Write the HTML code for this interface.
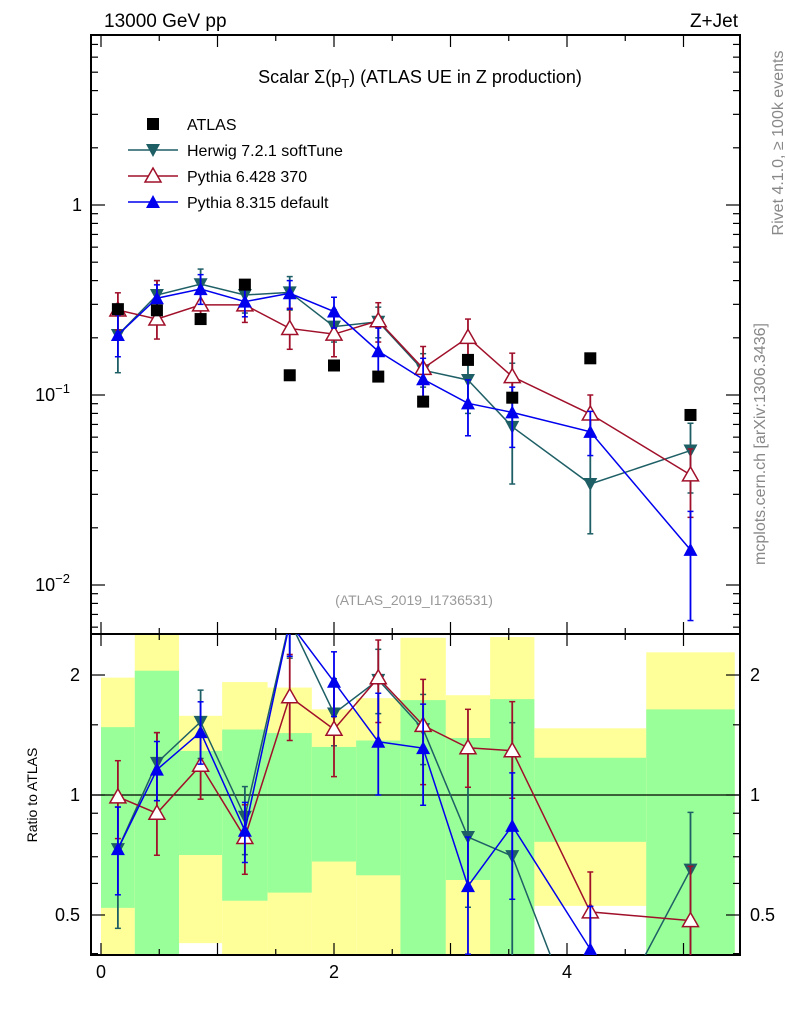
<!DOCTYPE html>
<html><head><meta charset="utf-8"><style>
html,body{margin:0;padding:0;background:#fff;width:786px;height:1024px;overflow:hidden;}
svg{display:block;font-family:"Liberation Sans",sans-serif;}
</style></head><body>
<svg id="c" width="786" height="1024" viewBox="0 0 786 1024" xmlns="http://www.w3.org/2000/svg">
<text x="104" y="27" font-size="19">13000 GeV pp</text>
<text x="738" y="27" font-size="19" text-anchor="end">Z+Jet</text>
<text x="420" y="83" font-size="18" text-anchor="middle">Scalar Σ(p<tspan font-size="13" dy="5">T</tspan><tspan dy="-5">) (ATLAS UE in Z production)</tspan></text>
<text x="414" y="605" font-size="14" fill="#999" text-anchor="middle">(ATLAS_2019_I1736531)</text>
<text transform="translate(783,143) rotate(-90)" font-size="16" fill="#888" text-anchor="middle">Rivet 4.1.0, ≥ 100k events</text>
<text transform="translate(765,444) rotate(-90)" font-size="16" fill="#888" text-anchor="middle">mcplots.cern.ch [arXiv:1306.3436]</text>
<text transform="translate(37,795) rotate(-90)" font-size="14" text-anchor="middle">Ratio to ATLAS</text>
<g id="bands"></g><g id="axes"></g><g id="marks"></g><g id="legend"></g>
</svg>
<script>
const binEdges=[0,0.29,0.67,1.04,1.43,1.81,2.19,2.57,2.96,3.34,3.72,4.68,5.44];
const atlas=[0.283,0.279,0.251,0.381,0.127,0.143,0.125,0.0923,0.153,0.0968,0.156,0.0785];
const herwig=[0.207,0.336,0.383,0.336,0.347,0.229,0.243,0.135,0.12,0.068,0.034,0.051];
const herwigLo=[0.131,0.27,0.31,0.27,0.28,0.19,0.2,0.11,0.08,0.034,0.0186,0.0305];
const herwigHi=[0.264,0.40,0.46,0.40,0.42,0.28,0.29,0.165,0.16,0.147,0.082,0.071];
const py6=[0.28,0.251,0.298,0.298,0.224,0.209,0.246,0.138,0.201,0.125,0.0794,0.038];
const py6Lo=[0.22,0.197,0.245,0.241,0.174,0.159,0.19,0.098,0.16,0.095,0.063,0.0227];
const py6Hi=[0.345,0.40,0.36,0.36,0.286,0.27,0.306,0.18,0.251,0.166,0.1,0.052];
const py8=[0.207,0.323,0.361,0.31,0.343,0.275,0.17,0.121,0.0904,0.081,0.064,0.0153];
const py8Lo=[0.159,0.27,0.3,0.258,0.283,0.225,0.125,0.087,0.061,0.053,0.048,0.0065];
const py8Hi=[0.264,0.38,0.43,0.365,0.40,0.327,0.225,0.156,0.12,0.11,0.082,0.0244];
const greenHi=[1.48,2.05,1.29,1.46,1.43,1.32,1.37,1.73,1.39,1.74,1.24,1.64];
const greenLo=[0.521,0.3,0.707,0.543,0.569,0.681,0.629,0.3,0.612,0.3,0.763,0.3];
const yellowHi=[1.97,3,1.58,1.92,1.86,1.64,1.75,2.48,1.78,2.49,1.47,2.28];
const yellowLo=[0.3,0.3,0.425,0.3,0.3,0.3,0.3,0.3,0.3,0.3,0.527,0.3];
const xTickLabels=[0,2,4];
const mainTickLabels=[1,0.1,0.01];
const ratioTickLabels=[0.5,1,2];

const NS="http://www.w3.org/2000/svg";
const L=91,R=740,T=35,MB=634,RB=955;
const X=v=>101+v*116.5;
const Y=v=>205-190*Math.log10(v);
const RY=v=>795-398.6*Math.log10(v);
function el(tag,attrs,parent){const e=document.createElementNS(NS,tag);for(const k in attrs)e.setAttribute(k,attrs[k]);document.getElementById(parent).appendChild(e);return e;}

for(let i=0;i<atlas.length;i++){
  const x0=X(binEdges[i]),x1=X(binEdges[i+1]);
  const clip=v=>Math.max(MB,Math.min(RB,v));
  let a=clip(RY(yellowHi[i])),b=clip(RY(yellowLo[i]));
  const y1=el('rect',{x:x0,y:a,width:x1-x0,height:b-a,fill:'#ffff99'},'bands');
  
  
  a=clip(RY(greenHi[i]));b=clip(RY(greenLo[i]));
  const g1=el('rect',{x:x0,y:a,width:x1-x0,height:b-a,fill:'#99ff99'},'bands');
  
  
}
[[T,MB],[MB,RB]].forEach(([t,b])=>{
  const f=el('rect',{x:L,y:t,width:R-L,height:b-t,fill:'none',stroke:'#000','stroke-width':2},'axes');
  
  
});
const one=el('line',{x1:L,x2:R,y1:RY(1),y2:RY(1),stroke:'#000','stroke-width':1.2},'axes');


for(let v=0;v<=5.4;v+=0.5){
  const maj=Math.abs(v-Math.round(v))<1e-6;const len=maj?12:6;
  [[T,1],[MB,-1],[MB,1],[RB,-1]].forEach(([y,d])=>{el('line',{x1:X(v),x2:X(v),y1:y,y2:y+d*len,stroke:'#000','stroke-width':1.2},'axes');});
}
xTickLabels.forEach(v=>{const t=el('text',{x:X(v),y:978,'font-size':18,'text-anchor':'middle'},'axes');t.textContent=v;

});
for(let d=-3;d<=0;d++)for(let m=1;m<=9;m++){const v=m*Math.pow(10,d);const y=Y(v);if(y<T||y>MB)continue;const len=m==1?14:7;
 el('line',{x1:L,x2:L+len,y1:y,y2:y,stroke:'#000','stroke-width':1.2},'axes');el('line',{x1:R,x2:R-len,y1:y,y2:y,stroke:'#000','stroke-width':1.2},'axes');}
mainTickLabels.forEach(v=>{const t=el('text',{x:82,y:Y(v)+6,'font-size':18,'text-anchor':'end'},'axes');
 if(v===1)t.textContent='1';else{t.textContent='10';const s=document.createElementNS(NS,'tspan');s.setAttribute('dy','-8');s.setAttribute('font-size','13');s.textContent='−'+Math.round(-Math.log10(v));t.appendChild(s);t.setAttribute('x',70);}
 
 });
[0.4,0.5,0.6,0.7,0.8,0.9,1,1.5,2].forEach(v=>{const y=RY(v);const maj=(v==0.5||v==1||v==2);const len=maj?14:7;
 el('line',{x1:L,x2:L+len,y1:y,y2:y,stroke:'#000','stroke-width':1.2},'axes');el('line',{x1:R,x2:R-len,y1:y,y2:y,stroke:'#000','stroke-width':1.2},'axes');});
ratioTickLabels.forEach(v=>{[[80,'end'],[750,'start']].forEach(([x,a])=>{const t=el('text',{x:x,y:RY(v)+6,'font-size':18,'text-anchor':a},'axes');t.textContent=v;
 
 });});

function marker(g,type,x,y,col){
  if(type==='sq')return el('rect',{x:x-6,y:y-6,width:12,height:12,fill:'#000'},g);
  if(type==='down')return el('polygon',{points:`${x-7},${y-6} ${x+7},${y-6} ${x},${y+7}`,fill:col},g);
  if(type==='up')return el('polygon',{points:`${x-7},${y+6} ${x+7},${y+6} ${x},${y-7}`,fill:col},g);
  if(type==='open')return el('polygon',{points:`${x-8},${y+6} ${x+8},${y+6} ${x},${y-8}`,fill:'#fff',stroke:col,'stroke-width':1.5},g);
}
const series=[
 {name:'herwig',v:herwig,lo:herwigLo,hi:herwigHi,col:'#1e5f66',m:'down'},
 {name:'pythia6',v:py6,lo:py6Lo,hi:py6Hi,col:'#a0102a',m:'open'},
 {name:'pythia8',v:py8,lo:py8Lo,hi:py8Hi,col:'#0000ee',m:'up'}];
const cx=i=>X((binEdges[i]+binEdges[i+1])/2);
const defs=el('defs',{},'marks');
const c1=document.createElementNS(NS,'clipPath');c1.setAttribute('id','cm');defs.appendChild(c1);
const r1=document.createElementNS(NS,'rect');r1.setAttribute('x',L);r1.setAttribute('y',T);r1.setAttribute('width',R-L);r1.setAttribute('height',MB-T);c1.appendChild(r1);
const c2=document.createElementNS(NS,'clipPath');c2.setAttribute('id','cr');defs.appendChild(c2);
const r2=document.createElementNS(NS,'rect');r2.setAttribute('x',L);r2.setAttribute('y',MB);r2.setAttribute('width',R-L);r2.setAttribute('height',RB-MB);c2.appendChild(r2);
const gm=el('g',{id:'gm','clip-path':'url(#cm)'},'marks');
const gr=el('g',{id:'gr','clip-path':'url(#cr)'},'marks');
series.forEach(s=>{
  [['gm',Y,i=>s.v[i],i=>s.lo[i],i=>s.hi[i]],['gr',RY,i=>s.v[i]/atlas[i],i=>s.lo[i]/atlas[i],i=>s.hi[i]/atlas[i]]].forEach(([g,F,fv,fl,fh])=>{
    const pts=s.v.map((_,i)=>cx(i)+','+F(fv(i))).join(' ');
    const pl=el('polyline',{points:pts,fill:'none',stroke:s.col,'stroke-width':1.5},g);
    
    
    s.v.forEach((_,i)=>{
      const x=cx(i);
      el('line',{x1:x,x2:x,y1:F(fl(i)),y2:F(fh(i)),stroke:s.col,'stroke-width':1.8},g);
      el('line',{x1:x-3,x2:x+3,y1:F(fl(i)),y2:F(fl(i)),stroke:s.col,'stroke-width':1.5},g);
      el('line',{x1:x-3,x2:x+3,y1:F(fh(i)),y2:F(fh(i)),stroke:s.col,'stroke-width':1.5},g);
      const mk=marker(g,s.m,x,F(fv(i)),s.col);
      
      
    });
  });
});
atlas.forEach((v,i)=>{const mk=marker('gm','sq',cx(i),Y(v));
 
 });
const leg=[['ATLAS','sq','#000'],['Herwig 7.2.1 softTune','down','#1e5f66'],['Pythia 6.428 370','open','#a0102a'],['Pythia 8.315 default','up','#0000ee']];
leg.forEach((l,i)=>{const y=124+i*26;
 if(i>0){el('line',{x1:128,x2:178,y1:y,y2:y,stroke:l[2],'stroke-width':1.5},'legend');}
 marker('legend',l[1],153,y,l[2]);
 const t=el('text',{x:187,y:y+6,'font-size':16},'legend');t.textContent=l[0];
 
 });
</script>
</body></html>
